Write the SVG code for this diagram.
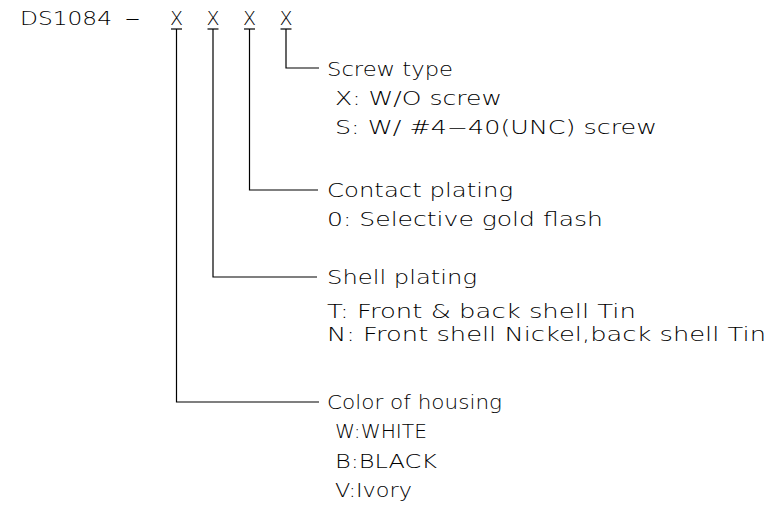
<svg xmlns="http://www.w3.org/2000/svg" width="776" height="518" viewBox="0 0 776 518">
<style>
text{font-family:"DejaVu Sans","Liberation Sans",Arial,sans-serif;font-weight:200;font-size:19px;fill:#000}
line,polyline{stroke:#000;stroke-width:1.2;fill:none}
</style>
<rect width="776" height="518" fill="#fff"/>
<g id="title">
<text x="20" y="25" textLength="92" lengthAdjust="spacingAndGlyphs">DS1084</text>
<text x="125" y="25" textLength="15" lengthAdjust="spacingAndGlyphs">–</text>
<text y="25" text-anchor="middle"><tspan x="176.5">X</tspan><tspan x="213">X</tspan><tspan x="249.5">X</tspan><tspan x="286">X</tspan></text>
</g>
<g id="connectors">
<line x1="171" y1="29" x2="182" y2="29"/>
<line x1="207.5" y1="29" x2="218.5" y2="29"/>
<line x1="244" y1="29" x2="255" y2="29"/>
<line x1="280.5" y1="29" x2="291.5" y2="29"/>
<polyline points="286,29 286,68 319,68"/>
<polyline points="249.5,29 249.5,190 318,190"/>
<polyline points="213,29 213,277 317,277"/>
<polyline points="176.5,29 176.5,402 319,402"/>
</g>
<g id="screw">
<text x="327" y="76" textLength="126" lengthAdjust="spacingAndGlyphs">Screw type</text>
<text x="335" y="105" textLength="167" lengthAdjust="spacingAndGlyphs">X: W/O screw</text>
<text x="335" y="134" textLength="322" lengthAdjust="spacingAndGlyphs">S: W/ #4−40(UNC) screw</text>
</g>
<g id="contact">
<text x="327" y="197" textLength="186" lengthAdjust="spacingAndGlyphs">Contact plating</text>
<text x="327" y="226" textLength="276" lengthAdjust="spacingAndGlyphs">0: Selective gold flash</text>
</g>
<g id="shell">
<text x="327" y="284" textLength="150" lengthAdjust="spacingAndGlyphs">Shell plating</text>
<text x="327" y="318" textLength="309" lengthAdjust="spacingAndGlyphs">T: Front &amp; back shell Tin</text>
<text x="327" y="341" textLength="439" lengthAdjust="spacingAndGlyphs">N: Front shell Nickel,back shell Tin</text>
</g>
<g id="housing">
<text x="327" y="409" textLength="175" lengthAdjust="spacingAndGlyphs">Color of housing</text>
<text x="335" y="438" textLength="92" lengthAdjust="spacingAndGlyphs">W:WHITE</text>
<text x="335" y="468" textLength="102" lengthAdjust="spacingAndGlyphs">B:BLACK</text>
<text x="335" y="497" textLength="77" lengthAdjust="spacingAndGlyphs">V:Ivory</text>
</g>
</svg>
